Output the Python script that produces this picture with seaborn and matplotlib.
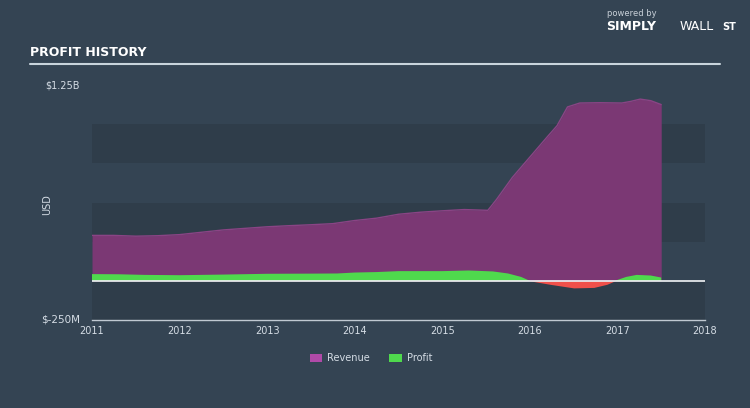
import numpy as np
import pandas as pd
import matplotlib
matplotlib.use("Agg")
import matplotlib.pyplot as plt
import seaborn as sns
from matplotlib.patches import Patch

# ---- data (values in billions USD) ----
rev_years = [2011.0, 2011.25, 2011.5, 2011.75, 2012.0, 2012.25, 2012.5, 2012.75,
             2013.0, 2013.25, 2013.5, 2013.75, 2014.0, 2014.25, 2014.5, 2014.75,
             2015.0, 2015.25, 2015.52, 2015.62, 2015.8, 2016.0, 2016.2, 2016.31,
             2016.43, 2016.57, 2016.8, 2017.05, 2017.15, 2017.26, 2017.38, 2017.5]
revenue = [0.29, 0.29, 0.285, 0.288, 0.295, 0.31, 0.325, 0.335,
           0.345, 0.352, 0.358, 0.365, 0.385, 0.40, 0.425, 0.438,
           0.447, 0.455, 0.45, 0.52, 0.66, 0.79, 0.92, 0.99,
           1.11, 1.135, 1.137, 1.135, 1.145, 1.16, 1.15, 1.125]

profit_years = [2011.0, 2011.3, 2011.6, 2012.0, 2012.5, 2013.0, 2013.5, 2013.8,
                2014.0, 2014.25, 2014.5, 2015.0, 2015.3, 2015.58, 2015.75, 2015.9,
                2016.0, 2016.24, 2016.5, 2016.73, 2016.88, 2016.97, 2017.1, 2017.22,
                2017.38, 2017.5]
profit = [0.043, 0.042, 0.038, 0.036, 0.040, 0.045, 0.046, 0.047,
          0.053, 0.056, 0.062, 0.062, 0.066, 0.060, 0.047, 0.025,
          0.0, -0.023, -0.045, -0.042, -0.022, 0.0, 0.025, 0.038,
          0.034, 0.021]

x_ticks = [2011, 2012, 2013, 2014, 2015, 2016, 2017, 2018]
y_min, y_max = -0.25, 1.25
y_labels = ["$1.25B", "$-250M"]

# ---- style ----
BG = "#344453"
BAND = "#2f3d4a"
PURPLE = "#7b3874"
GREEN = "#4fd94d"
RED = "#f0504a"
TXT = "#d5dde5"

sns.set_theme(style="dark", rc={"figure.facecolor": BG, "axes.facecolor": BG,
                                "savefig.facecolor": BG})
plt.rcParams["font.family"] = ["DejaVu Sans"]

fig = plt.figure(figsize=(7.5, 4.08), dpi=100)
ax = fig.add_axes([92 / 750, 1 - 320 / 408, 613 / 750, (320 - 85) / 408])
ax.set_facecolor(BG)

# background bands
for lo, hi in [(0.75, 1.0), (0.25, 0.5), (-0.25, 0.0)]:
    ax.axhspan(lo, hi, color=BAND, zorder=0, lw=0)

rev_df = pd.DataFrame({"year": rev_years, "value": revenue})
pr_df = pd.DataFrame({"year": profit_years, "value": profit})

ax.fill_between(rev_df["year"], 0, rev_df["value"], color=PURPLE, lw=0, zorder=2)
sns.lineplot(data=rev_df, x="year", y="value", ax=ax, color="#8a4485", lw=1.0, zorder=3)

pv = pr_df["value"].to_numpy()
ax.fill_between(pr_df["year"], 0, pv, where=pv >= 0, interpolate=True,
                color=GREEN, lw=0, zorder=4)
ax.fill_between(pr_df["year"], 0, pv, where=pv <= 0, interpolate=True,
                color=RED, lw=0, zorder=4)

ax.axhline(0, color="#f2f4f6", lw=1.2, zorder=5)

ax.set_xlim(2011, 2018)
ax.set_ylim(y_min, y_max)
ax.set_xticks(x_ticks)
ax.set_xticklabels([str(t) for t in x_ticks], color=TXT, fontsize=7)
ax.set_yticks([])
ax.set_xlabel("")
ax.set_ylabel("")
for s in ["top", "right", "left"]:
    ax.spines[s].set_visible(False)
ax.spines["bottom"].set_color("#c0c9d2")
ax.spines["bottom"].set_linewidth(1.0)
ax.tick_params(axis="x", colors="#c0c9d2", length=5, width=1, direction="inout",
               pad=2, labelcolor=TXT)
ax.grid(False)

# y labels
fig.text(80 / 750, 1 - 85 / 408, y_labels[0], ha="right", va="center", color=TXT, fontsize=7)
fig.text(80 / 750, 1 - 320 / 408, y_labels[1], ha="right", va="center", color=TXT, fontsize=7.5)
fig.text(47 / 750, 1 - 205 / 408, "USD", rotation=90, ha="center", va="center",
         color=TXT, fontsize=7)

# title and rule
fig.text(30 / 750, 1 - 53 / 408, "PROFIT HISTORY", ha="left", va="center",
         color="white", fontsize=9, fontweight="bold")
fig.add_artist(plt.Line2D([30 / 750, 720 / 750], [1 - 64 / 408, 1 - 64 / 408],
                          color="#c8d4dc", lw=1.5, transform=fig.transFigure))

# branding
fig.text(607 / 750, 1 - 14 / 408, "powered by", ha="left", va="center",
         color="#c8d0d8", fontsize=6)
fig.text(606 / 750, 1 - 27 / 408, "SIMPLY", ha="left", va="center",
         color="white", fontsize=9, fontweight="bold")
fig.text(680 / 750, 1 - 27 / 408, "WALL", ha="left", va="center",
         color="white", fontsize=9)
fig.text(722 / 750, 1 - 27 / 408, "ST", ha="left", va="center",
         color="white", fontsize=7, fontweight="bold")

# legend
handles = [Patch(facecolor="#b04aa8", edgecolor="none", label="Revenue"),
           Patch(facecolor=GREEN, edgecolor="none", label="Profit")]
fig.legend(handles=handles, loc="center", bbox_to_anchor=(371 / 750, 1 - 358 / 408),
           ncol=2, frameon=False, fontsize=7, labelcolor=TXT,
           handlelength=1.3, handleheight=0.9, columnspacing=2.0, handletextpad=0.5)

fig.savefig("out.png", dpi=100, facecolor=BG)
